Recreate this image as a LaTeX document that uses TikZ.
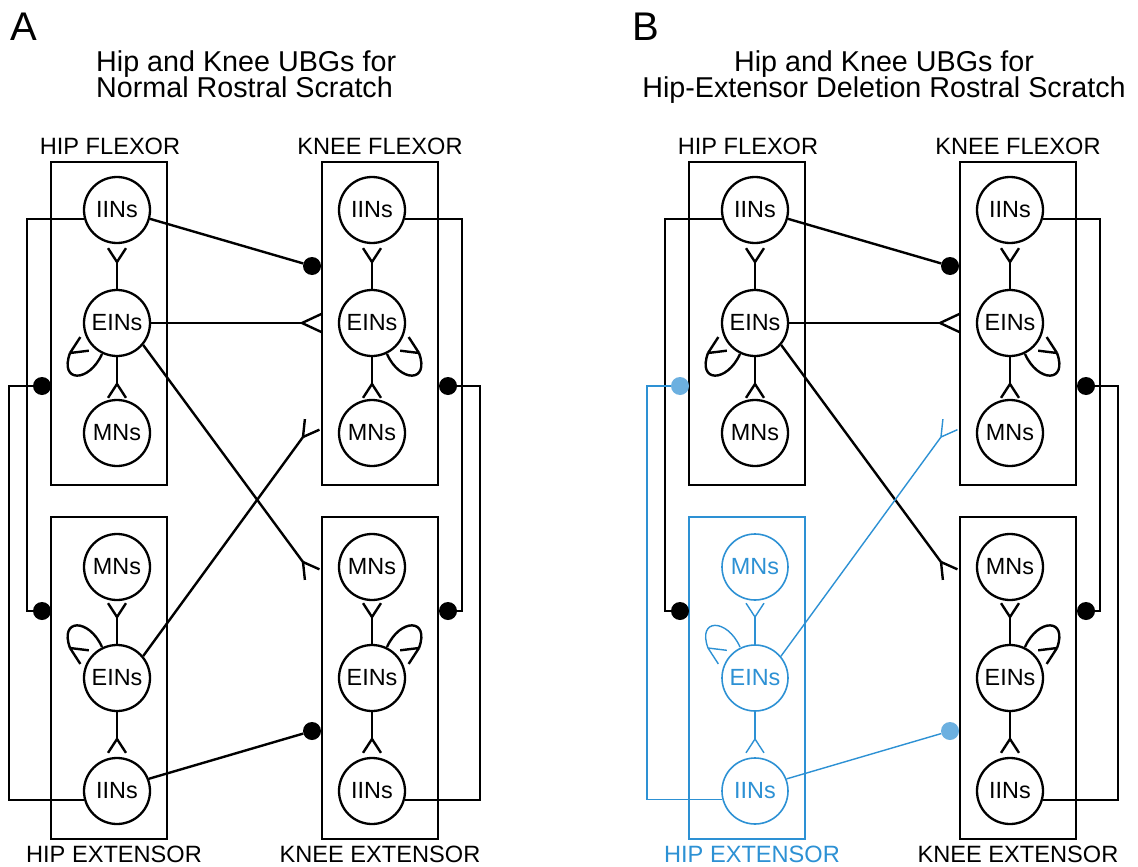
\documentclass[tikz,border=0pt]{standalone}
\usepackage{fontspec}
\setmainfont{Liberation Sans}
\definecolor{sblue}{RGB}{45,145,212}
\definecolor{dblue}{RGB}{108,176,224}
\tikzset{
  neuron/.style={circle,draw,line width=2.3pt,minimum size=66pt,inner sep=0pt,font=\fontsize{23.4}{24}\selectfont},
  pool/.style={draw,line width=1.4pt},
  conn/.style={line width=2.4pt},
  inh/.style={circle,fill,draw=none,minimum size=18pt,inner sep=0pt},
  grp/.style={font=\fontsize{23.6}{24}\selectfont,inner sep=0pt,anchor=base},
  ttl/.style={font=\fontsize{28.7}{30}\selectfont,inner sep=0pt},
  letter/.style={font=\fontsize{40}{42}\selectfont,inner sep=0pt,anchor=base west},
}
% fork-shaped excitatory ending: #1 vertex, #2 direction, #3 half angle, #4 arm length, #5 style
\newcommand\fork[5]{\draw[#5] #1 -- ++({#2+#3}:#4) #1 -- ++({#2-#3}:#4);}
% self-excitation loop: #1 cx, #2 cy, #3 xscale, #4 yscale, #5 style
\newcommand\selfloop[5]{%
  \begin{scope}[shift={(#1,#2)},xscale=#3,yscale=#4]
    \draw[#5] (-15,31) .. controls (-28,60) and (-58,60) .. (-47,30);
    \fork{(-47,30)}{-32}{25}{19}{#5}
  \end{scope}}
% one panel: #1 prefix, #2 xshift, #3 hip-extensor colour, #4 its connector width,
% #5 its dot colour, #6 its circle width
\newcommand\ubgpanel[6]{%
\begin{scope}[xshift=#2]
  \tikzset{hx/.style={draw=#3,line width=#4},
           hxn/.style={neuron,draw=#3,text=#3,line width=#6}}
  % unit boxes
  \draw[pool] (51,162) rectangle (167,485);
  \draw[pool] (322,162) rectangle (438,485);
  \draw[pool,draw=#3] (51,517) rectangle (167,839);
  \draw[pool] (322,517) rectangle (438,839);
  % group labels
  \node[grp] (#1lhf) at (110,154) {HIP FLEXOR};
  \node[grp] (#1lkf) at (380,154) {KNEE FLEXOR};
  \node[grp,text=#3] (#1lhe) at (114,862) {HIP EXTENSOR};
  \node[grp] (#1lke) at (380,862) {KNEE EXTENSOR};
  % neurons
  \node[neuron] (#1hfI) at (117,210) {IINs};
  \node[neuron] (#1hfE) at (117,323) {EINs};
  \node[neuron] (#1hfM) at (117,433) {MNs};
  \node[neuron] (#1kfI) at (372,210) {IINs};
  \node[neuron] (#1kfE) at (372,323) {EINs};
  \node[neuron] (#1kfM) at (372,433) {MNs};
  \node[hxn] (#1heM) at (117,567) {MNs};
  \node[hxn] (#1heE) at (117,678) {EINs};
  \node[hxn] (#1heI) at (117,791) {IINs};
  \node[neuron] (#1keM) at (372,567) {MNs};
  \node[neuron] (#1keE) at (372,678) {EINs};
  \node[neuron] (#1keI) at (372,791) {IINs};
  % inhibitory endings
  \node[inh,fill=#5] (#1dHF) at (42,386) {};
  \node[inh] (#1dHE) at (42,611) {};
  \node[inh] (#1dKFr) at (448,386) {};
  \node[inh] (#1dKEr) at (448,611) {};
  \node[inh] (#1dKFl) at (312,266) {};
  \node[inh,fill=#5] (#1dKEl) at (312,731) {};
  % rails
  \coordinate (#1r1) at (27,0);
  \coordinate (#1r2) at (9,0);
  \coordinate (#1r3) at (462,0);
  \coordinate (#1r4) at (480,0);
  % excitatory fork vertices
  \coordinate (#1vKF) at (302,323);
  \coordinate (#1vKE) at (303,562);
  \coordinate (#1vKM) at (303,437);
  \coordinate (#1hfU) at (117,262);
  \coordinate (#1hfD) at (117,384);
  \coordinate (#1kfU) at (372,262);
  \coordinate (#1kfD) at (372,384);
  \coordinate (#1heU) at (117,617);
  \coordinate (#1heD) at (117,739);
  \coordinate (#1keU) at (372,617);
  \coordinate (#1keD) at (372,739);
  % reciprocal inhibition
  \draw[conn] (#1hfI.195) -| (#1r1 |- #1dHE) -- (#1dHE);
  \draw[conn,hx] (#1heI.195) -| (#1r2 |- #1dHF) -- (#1dHF);
  \draw[conn] (#1kfI.-15) -| (#1r3 |- #1dKEr) -- (#1dKEr);
  \draw[conn] (#1keI.-15) -| (#1r4 |- #1dKFr) -- (#1dKFr);
  \draw[conn] (#1hfI.-15) -- (#1dKFl);
  \draw[conn,hx] (#1heI.21) -- (#1dKEl);
  % hip-to-knee excitation
  \draw[conn] (#1hfE.east) -- (#1vKF);
  \fork{(#1vKF)}{0}{25}{22}{conn}
  \draw[conn] (#1hfE.-40) -- (#1vKE);
  \fork{(#1vKE)}{54}{30}{18}{conn}
  \draw[conn,hx] (#1heE.40) -- (#1vKM);
  \fork{(#1vKM)}{-54}{30}{18}{conn,hx}
  % within-unit excitation
  \draw[conn] (#1hfE.north) -- (#1hfU); \fork{(#1hfU)}{-90}{33}{16.5}{conn}
  \draw[conn] (#1hfE.south) -- (#1hfD); \fork{(#1hfD)}{90}{33}{16.5}{conn}
  \draw[conn] (#1kfE.north) -- (#1kfU); \fork{(#1kfU)}{-90}{33}{16.5}{conn}
  \draw[conn] (#1kfE.south) -- (#1kfD); \fork{(#1kfD)}{90}{33}{16.5}{conn}
  \draw[conn,hx] (#1heE.north) -- (#1heU); \fork{(#1heU)}{-90}{33}{16.5}{conn,hx}
  \draw[conn,hx] (#1heE.south) -- (#1heD); \fork{(#1heD)}{90}{33}{16.5}{conn,hx}
  \draw[conn] (#1keE.north) -- (#1keU); \fork{(#1keU)}{-90}{33}{16.5}{conn}
  \draw[conn] (#1keE.south) -- (#1keD); \fork{(#1keD)}{90}{33}{16.5}{conn}
  % self excitation
  \selfloop{117}{323}{1}{1}{conn}
  \selfloop{372}{323}{-1}{1}{conn}
  \selfloop{117}{678}{1}{-1}{conn,hx}
  \selfloop{372}{678}{-1}{-1}{conn}
\end{scope}}

\begin{document}
\begin{tikzpicture}[x=1pt,y=-1pt]
  \useasboundingbox[fill=white] (0,0) rectangle (1138,867);
  \node[letter] (lettA) at (10,41) {A};
  \node[letter] (lettB) at (632,41) {B};
  \node[ttl,anchor=base west] (tA1) at (96,72) {Hip and Knee UBGs for};
  \node[ttl,anchor=base west] (tA2) at (96,98) {Normal Rostral Scratch};
  \node[ttl,anchor=base] (tB1) at (884,72) {Hip and Knee UBGs for};
  \node[ttl,anchor=base] (tB2) at (884,98) {Hip-Extensor Deletion Rostral Scratch};
  \ubgpanel{a}{0pt}{black}{2.4pt}{black}{2.3pt}
  \ubgpanel{b}{638pt}{sblue}{1.4pt}{dblue}{1.6pt}
\end{tikzpicture}
\end{document}
